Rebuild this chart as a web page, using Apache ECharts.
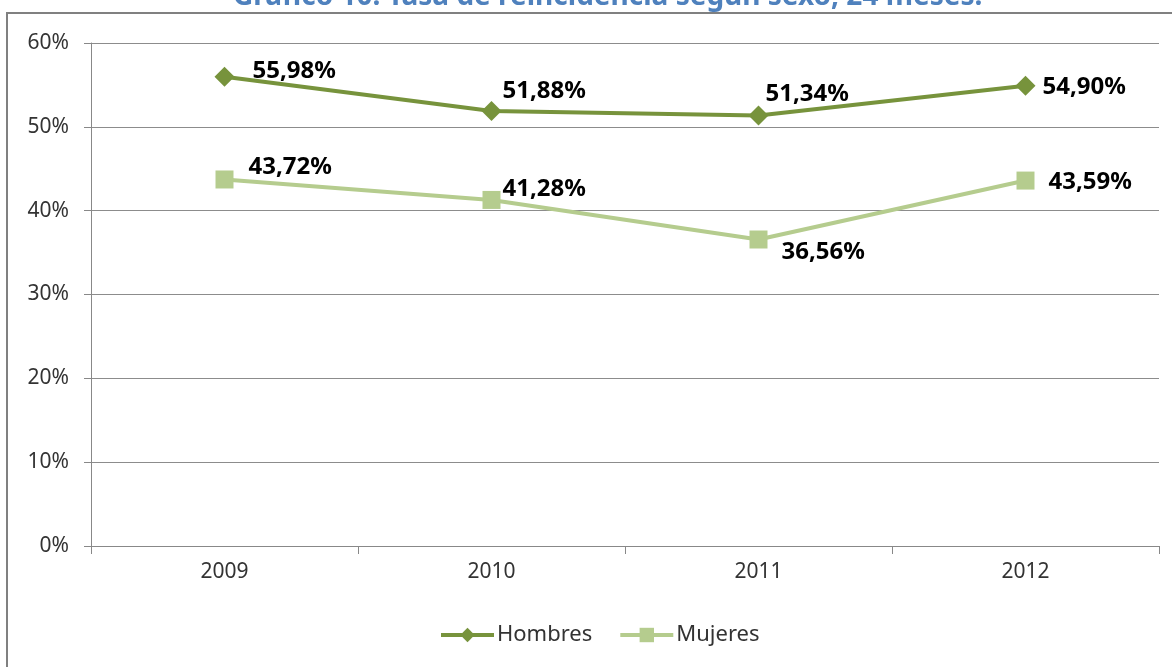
<!DOCTYPE html>
<html>
<head>
<meta charset="utf-8">
<script src="https://cdn.jsdelivr.net/npm/echarts@6/dist/echarts.min.js"></script>
<style>
  html, body { margin: 0; padding: 0; background: #fff; }
  #chart { width: 1172px; height: 667px; }
</style>
</head>
<body>
<div id="chart"></div>
<script>
// datos
const years = ['2009', '2010', '2011', '2012'];
const hombres = [55.98, 51.88, 51.34, 54.90];
const mujeres = [43.72, 41.28, 36.56, 43.59];
const yTicks = [0, 10, 20, 30, 40, 50, 60];

// desplazamiento de etiquetas (px respecto al punto)
const offH = [[28, -6], [11, -20], [7, -21], [17, 1]];
const offM = [[24, -12], [11, -11], [23, 13], [23, 2]];

const fmt = v => v.toFixed(2).replace('.', ',') + '%';

function withLabels(vals, offs) {
  return vals.map((v, i) => ({
    value: v,
    label: { offset: offs[i] }
  }));
}

const labelStyle = {
  show: true,
  position: 'inside',
  align: 'left',
  verticalAlign: 'middle',
  color: '#000',
  fontFamily: 'Noto Sans',
  fontWeight: 'bold',
  fontSize: 24,
  formatter: p => fmt(p.value)
};

let myChart = echarts.init(document.getElementById('chart'));

let option = {
  animation: false,
  textStyle: { fontFamily: 'Noto Sans' },
  title: {
    text: 'Gráfico 10: Tasa de reincidencia según sexo, 24 meses.',
    left: 228,
    top: -22,
    textStyle: { color: '#4F81BD', fontSize: 28, fontWeight: 'bold', fontFamily: 'Noto Sans' }
  },
  graphic: [{
    type: 'rect',
    shape: { x: 7, y: 13, width: 1200, height: 700 },
    style: { fill: null, stroke: '#808080', lineWidth: 2 },
    z: -1
  }],
  grid: { left: 91, right: 13, top: 43, bottom: 121 },
  legend: {
    bottom: 16,
    left: 434,
    itemWidth: 53,
    itemHeight: 18,
    itemGap: 26,
    lineStyle: { width: 4 },
    textStyle: { color: '#333', fontSize: 22, padding: [0, 0, 0, -2] },
    data: ['Hombres', 'Mujeres']
  },
  xAxis: {
    type: 'category',
    data: years,
    axisLine: { lineStyle: { color: '#888', width: 1 } },
    axisTick: { show: true, length: 8, lineStyle: { color: '#888' } },
    axisLabel: { color: '#333', fontSize: 21, margin: 16 }
  },
  yAxis: {
    type: 'value',
    min: yTicks[0],
    max: yTicks[yTicks.length - 1],
    interval: 10,
    axisLine: { show: true, lineStyle: { color: '#888', width: 1 } },
    axisTick: { show: true, length: 7, lineStyle: { color: '#888' } },
    splitLine: { lineStyle: { color: '#8c8c8c', width: 1 } },
    axisLabel: { color: '#333', fontSize: 21, margin: 22, formatter: v => v + '%' }
  },
  series: [
    {
      name: 'Hombres',
      type: 'line',
      data: withLabels(hombres, offH),
      symbol: 'diamond',
      symbolSize: 20,
      itemStyle: { color: '#77933C' },
      lineStyle: { color: '#77933C', width: 4 },
      label: labelStyle
    },
    {
      name: 'Mujeres',
      type: 'line',
      data: withLabels(mujeres, offM),
      symbol: 'rect',
      symbolSize: 18,
      itemStyle: { color: '#B5CC8E' },
      lineStyle: { color: '#B5CC8E', width: 4 },
      label: labelStyle
    }
  ]
};

myChart.setOption(option);
window.addEventListener('resize', function () {
  myChart.resize();
});
</script>
</body>
</html>
